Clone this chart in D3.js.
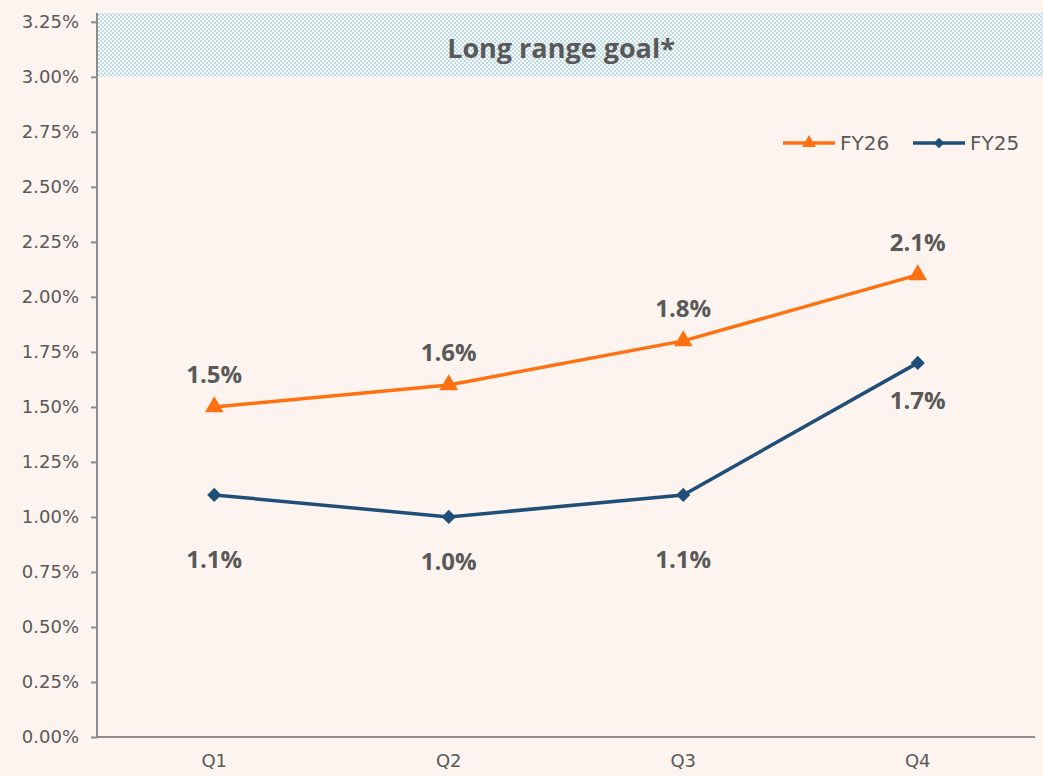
<!DOCTYPE html>
<html lang="en">
	<head>
		<meta charset="utf-8">
		<title>Long range goal chart</title>
		<style>
			body { margin: 0; background: #fef4ef; }
			#graph { display: block; font-family: "Open Sans", "DejaVu Sans", sans-serif; }
			#graph .tick text { fill: #595959; }
			#graph .domain, #graph .tick line { stroke: #8c8c8c; stroke-width: 2; }
			.lbl { fill: #595959; font-size: 24px; font-weight: 700; }
		</style>
	</head>
	<body>
		<svg id="graph" width="1043" height="776"></svg>

		<script src="https://d3js.org/d3.v7.min.js"></script>
		<script>
			"use strict";

			var quarters = ["Q1", "Q2", "Q3", "Q4"];
			var fy26 = [1.5, 1.6, 1.8, 2.1];
			var fy25 = [1.1, 1.0, 1.1, 1.7];
			var yTicks = [0, 0.25, 0.5, 0.75, 1, 1.25, 1.5, 1.75, 2, 2.25, 2.5, 2.75, 3, 3.25];
			var goalRange = [3.0, 3.29];

			var svg = d3.select("#graph");
			var plotL = 97, plotR = 1035, plotT = 13, plotB = 737;

			var x = d3.scaleBand().domain(quarters).range([plotL, plotR]);
			var y = d3.scaleLinear().domain([0, 3.29]).range([plotB, plotT]);

			// checker pattern for the goal band
			var pat = svg.append("defs").append("pattern")
				.attr("id", "check").attr("width", 4).attr("height", 4)
				.attr("patternUnits", "userSpaceOnUse");
			pat.append("rect").attr("width", 4).attr("height", 4).attr("fill", "#f4fafb");
			pat.append("rect").attr("width", 2).attr("height", 2).attr("fill", "#c3dbe1");
			pat.append("rect").attr("x", 2).attr("y", 2).attr("width", 2).attr("height", 2).attr("fill", "#c3dbe1");

			svg.append("rect")
				.attr("x", plotL).attr("y", y(goalRange[1]))
				.attr("width", 1043 - plotL)
				.attr("height", y(goalRange[0]) - y(goalRange[1]))
				.attr("fill", "url(#check)");

			svg.append("text")
				.attr("x", 561).attr("y", 58)
				.attr("text-anchor", "middle")
				.attr("class", "lbl").style("font-size", "27px")
				.text("Long range goal*");

			svg.append("g")
				.attr("transform", "translate(" + plotL + ",0)")
				.call(d3.axisLeft(y).tickValues(yTicks).tickSize(6).tickPadding(12)
					.tickFormat(function(d){ return d.toFixed(2) + "%"; }))
				.attr("font-size", 18).attr("font-family", "DejaVu Sans, sans-serif")
				.call(function(g){ g.select(".domain").attr("d", "M0," + plotT + "V" + plotB); });

			svg.append("g")
				.attr("transform", "translate(0," + plotB + ")")
				.call(d3.axisBottom(x).tickSize(0).tickPadding(17))
				.attr("font-size", 18).attr("font-family", "DejaVu Sans, sans-serif")
				.call(function(g){ g.select(".domain").attr("d", "M" + plotL + ",0H" + plotR); });

			var cx = function(d, i){ return x(quarters[i]) + x.bandwidth() / 2; };
			var line = d3.line().x(cx).y(function(d){ return y(d); });

			var series = [
				{ name: "FY26", values: fy26, color: "#ff7010", symbol: d3.symbolTriangle, size: 150, rot: 0,
					dy: [-24, -24, -24, -24] },
				{ name: "FY25", values: fy25, color: "#1f4e79", symbol: d3.symbolSquare, size: 100, rot: 45,
					dy: [73, 53, 73, 46] }
			];

			series.forEach(function(s){
				svg.append("path")
					.datum(s.values)
					.attr("fill", "none")
					.attr("stroke", s.color)
					.attr("stroke-width", 3.5)
					.attr("d", line);

				svg.selectAll(null)
					.data(s.values)
					.enter()
					.append("path")
					.attr("transform", function(d, i){
						return "translate(" + cx(d, i) + "," + y(d) + ") rotate(" + s.rot + ")";
					})
					.attr("d", d3.symbol().type(s.symbol).size(s.size))
					.attr("fill", s.color);

				svg.selectAll(null)
					.data(s.values)
					.enter()
					.append("text")
					.attr("class", "lbl")
					.attr("text-anchor", "middle")
					.attr("x", cx)
					.attr("y", function(d, i){ return y(d) + s.dy[i]; })
					.text(function(d){ return d.toFixed(1) + "%"; });
			});

			// legend
			var legend = svg.append("g").attr("transform", "translate(783,143)");
			series.forEach(function(s, i){
				var g = legend.append("g").attr("transform", "translate(" + (i * 130) + ",0)");
				g.append("line").attr("x1", 0).attr("x2", 52)
					.attr("stroke", s.color).attr("stroke-width", 3.5);
				g.append("path").attr("transform", "translate(26,0) rotate(" + s.rot + ")")
					.attr("d", d3.symbol().type(s.symbol).size(s.size * 0.55))
					.attr("fill", s.color);
				g.append("text").attr("x", 57).attr("y", 7)
					.attr("fill", "#595959").style("font-size", "20px")
					.style("font-family", "DejaVu Sans, sans-serif")
					.text(s.name);
			});
		</script>
	</body>
</html>
